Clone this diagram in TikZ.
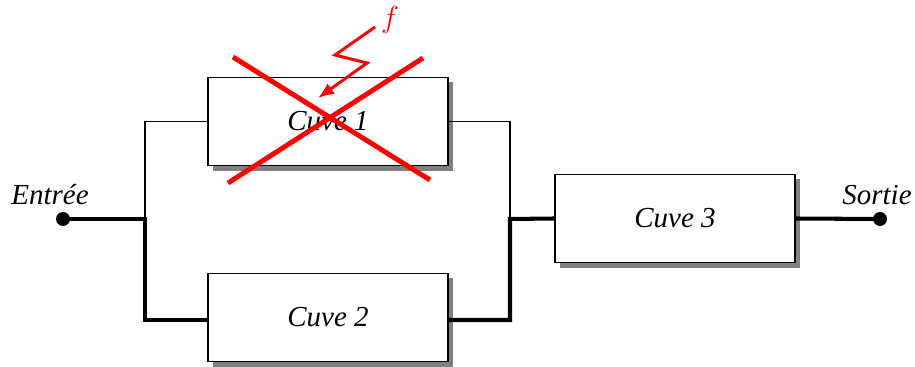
\documentclass[tikz,border=0pt]{standalone}
\usepackage{fontspec}
\setmainfont{Liberation Serif}
\usepackage{tikz}
\usetikzlibrary{arrows.meta,shadows}

\tikzset{
  cuve/.style={draw,line width=0.8pt,fill=white,minimum width=4.8cm,minimum height=1.77cm,
    font=\itshape\fontsize{16.5}{20}\selectfont,
    drop shadow={shadow xshift=0.1cm,shadow yshift=-0.1cm,fill=black!50,opacity=1}},
  port/.style={circle,fill=black,inner sep=0pt,minimum size=0.28cm},
  lbl/.style={font=\itshape\fontsize{16.5}{20}\selectfont},
  fort/.style={line width=2.3pt},
  fin/.style={line width=0.7pt},
  panne/.style={red,line width=2.8pt}
}

\begin{document}
\begin{tikzpicture}[x=0.02cm,y=-0.02cm]
        \useasboundingbox (0,0) rectangle (915,367);
        \node[cuve] (c1) at (328,121.5) {Cuve 1};
        \node[cuve] (c2) at (328,317.5) {Cuve 2};
        \node[cuve] (c3) at (675,218.5) {Cuve 3};
        \node[port] (in) at (63,219) {};
        \node[port] (out) at (880,219) {};
        \node[lbl] (tin) at (50,195) {Entrée};
        \node[lbl] (tout) at (877,195) {Sortie};
        \coordinate (sl) at (145,219);
        \coordinate (sr) at (510,219);
        % liaisons
        \draw[fin] (sl) |- (c1.west);
        \draw[fin] (c1.east) -| (sr);
        \draw[fort] (in.center) -- (sl) |- ([yshift=-0.05cm]c2.west);
        \draw[fort] ([yshift=-0.05cm]c2.east) -| (sr) -- (c3.west);
        \draw[fort] (c3.east) -- (out.center);
        % defaillance
        \draw[panne] (233,57) -- (430,180);
        \draw[panne] (423,58) -- (228,183);
        \node[red,lbl] (f) at (390,20) {$f$};
        \coordinate (z1) at (375,27);
        \coordinate (z2) at (335,55);
        \coordinate (z3) at (367,63);
        \coordinate (z4) at (318,98);
        \draw[red,line width=1.7pt,-{Latex[length=0.32cm,width=0.26cm]}] (z1) -- (z2) -- (z3) -- (z4);
    \end{tikzpicture}
\end{document}
